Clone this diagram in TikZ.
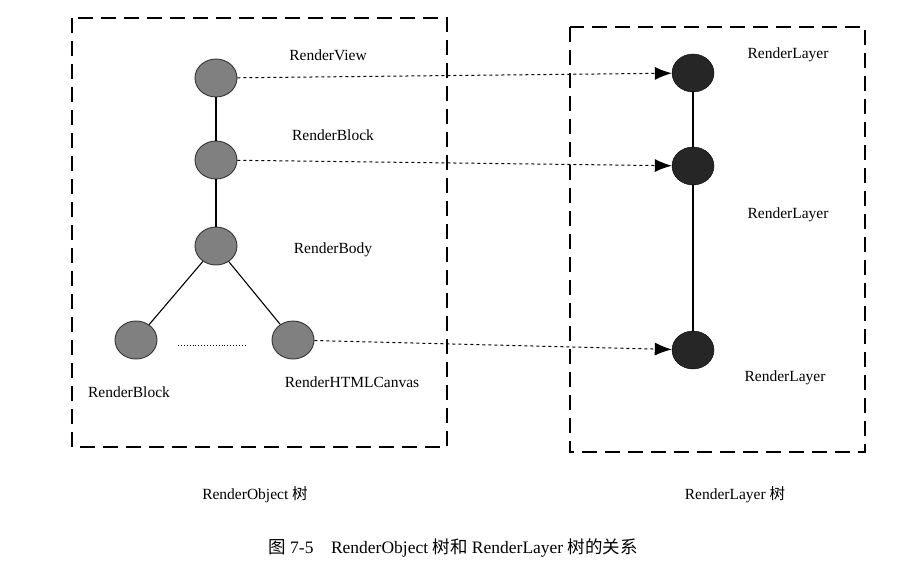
\documentclass[tikz,border=0pt]{standalone}
\usepackage{fontspec}
\setmainfont{Liberation Serif}
\newfontfamily\cjk{Noto Sans CJK SC}
\usetikzlibrary{arrows.meta,shapes.geometric}
\begin{document}
\begin{tikzpicture}[x=1pt,y=-1pt,
  box/.style={draw,line width=2.8pt,dash pattern=on 15pt off 8pt},
  obj/.style={ellipse,draw=black!80,fill=black!50,line width=0.9pt,minimum width=42pt,minimum height=38pt,inner sep=0pt},
  lay/.style={ellipse,draw=black,fill=black!85,minimum width=42pt,minimum height=38pt,inner sep=0pt},
  lbl/.style={font=\fontsize{15.5}{18}\selectfont},
  link/.style={draw,dashed,line width=1pt,-{Latex[length=17pt,width=13pt]}},
  edge/.style={draw,line width=1.1pt}]
\useasboundingbox (0,0) rectangle (901,573);
\draw[box] (72,18) rectangle (447,447);
\draw[box] (570,27) rectangle (865,452);
\node[obj] (v) at (216,78) {};
\node[obj] (b) at (216,160) {};
\node[obj] (d) at (216,246) {};
\node[obj] (l) at (136,340) {};
\node[obj] (c) at (293,340) {};
\node[lay] (r1) at (693,73) {};
\node[lay] (r2) at (693,166) {};
\node[lay] (r3) at (693,350) {};
\draw[edge] (v) -- (b); \draw[edge] (b) -- (d);
\draw[edge] (d) -- (l); \draw[edge] (d) -- (c);
\draw[edge] (r1) -- (r2); \draw[edge] (r2) -- (r3);
\coordinate (dl) at (178,345); \coordinate (dr) at (246,345);
\draw[dotted,line width=0.9pt] (dl) -- (dr);
\draw[link] (v) -- (r1);
\draw[link] (b) -- (r2);
\draw[link] (c) -- (r3);
\node[lbl] (t1) at (328,55) {RenderView};
\node[lbl] (t2) at (333,135) {RenderBlock};
\node[lbl] (t3) at (333,250) {RenderBody};
\node[lbl] (t4) at (129,392) {RenderBlock};
\node[lbl] (t5) at (352,382) {RenderHTMLCanvas};
\node[lbl] (t6) at (788,55) {RenderLayer};
\node[lbl] (t7) at (788,215) {RenderLayer};
\node[lbl] (t8) at (785,378) {RenderLayer};
\node[lbl] (c1) at (255,495) {RenderObject {\cjk 树}};
\node[lbl] (c2) at (735,495) {RenderLayer {\cjk 树}};
\node[font=\fontsize{17.5}{20}\selectfont] (c3) at (453,548) {{\cjk 图} 7-5\quad RenderObject {\cjk 树和} RenderLayer {\cjk 树的关系}};
\end{tikzpicture}
\end{document}
